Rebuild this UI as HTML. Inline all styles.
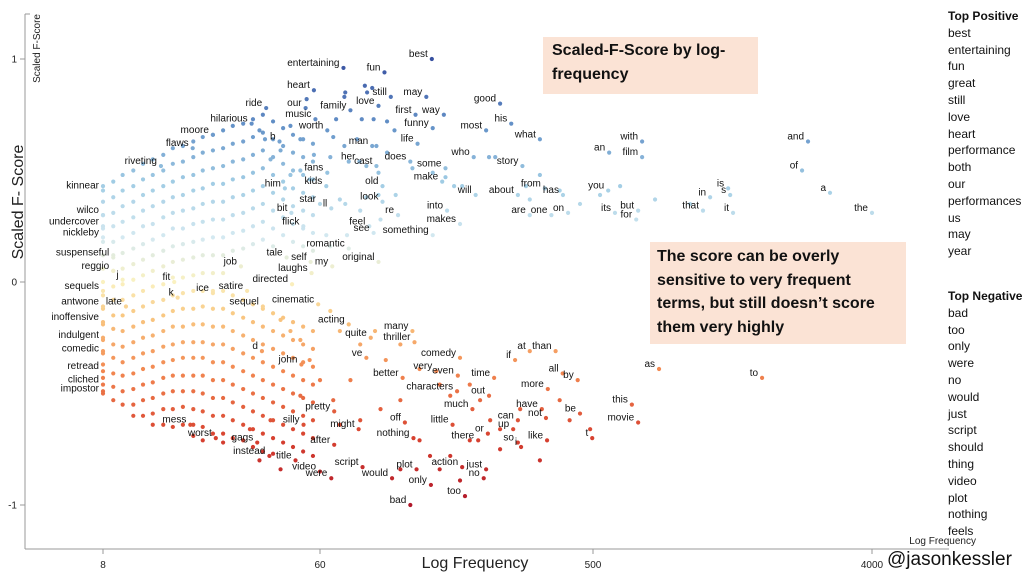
<!DOCTYPE html>
<html><head><meta charset="utf-8"><style>
body{margin:0;background:#fff;width:1024px;height:576px;overflow:hidden;font-family:"Liberation Sans",sans-serif}
svg{position:absolute;left:0;top:0}
.box{position:absolute;background:#fbe3d5;font-weight:bold;font-size:16px;color:#111;line-height:23.5px;font-family:"Liberation Sans",sans-serif}
.side{position:absolute;left:948px;font-size:12px;line-height:16.8px;color:#111}
.side b{display:block}
</style></head><body>
<svg id="chart" width="1024" height="576"></svg>
<div class="box" style="left:543px;top:37px;width:206px;height:55px;padding:2px 0 0 9px">Scaled-F-Score by log-<br>frequency</div>
<div class="box" style="left:650px;top:242px;width:249px;height:99px;padding:3px 0 0 7px">The score can be overly<br>sensitive to very frequent<br>terms, but still doesn’t score<br>them very highly</div>
<div class="side" style="top:8px"><b>Top Positive</b>best<br>entertaining<br>fun<br>great<br>still<br>love<br>heart<br>performance<br>both<br>our<br>performances<br>us<br>may<br>year</div>
<div class="side" style="top:288px"><b>Top Negative</b>bad<br>too<br>only<br>were<br>no<br>would<br>just<br>script<br>should<br>thing<br>video<br>plot<br>nothing<br>feels</div>
<div style="position:absolute;left:887px;top:549px;font-size:19px;color:#111">@jasonkessler</div>
<script>
const words=["best","entertaining","fun","heart","love","still","may","our","music","family","ride","first","way","good","hilarious","worth","funny","most","his","what","moore","b","man","life","flaws","her","cast","does","who","some","story","riveting","fans","kids","make","old","him","will","look","star","ll","bit","feel","into","re","makes","flick","see","something","kinnear","wilco","undercover","nickleby","suspenseful","reggio","romantic","original","tale","self","my","laughs","job","directed","j","fit","k","ice","satire","sequels","late","antwone","inoffensive","sequel","cinematic","acting","quite","many","thriller","d","ve","john","indulgent","comedic","retread","cliched","impostor","comedy","very","even","time","better","characters","at","than","if","all","by","as","to","more","out","pretty","much","have","this","off","might","little","can","not","be","movie","up","or","silly","nothing","mess","worst","gags","there","so","i","like","t","instead","after","title","video","script","were","would","plot","action","no","just","only","too","bad","with","an","film","and","of","a","the","from","has","about","you","in","is","s","are","one","on","its","but","for","that","it"];
const wordFreqs=[143,72,99,56.7,94.5,104,137,52.5,57.5,76,36.4,126,157,243,31.8,63.5,144,218,265,331,22.2,41.2,90,128,18.4,81.5,93,121,198,159,289,13.7,63.5,63,155,97.5,43.3,201,97.5,60,65.5,46,88,161,110,178,51.4,91,144,8,8,8,8,8.8,8.8,75,94.5,44,55,66,55.5,28.8,46.3,9.6,15.5,16,22.2,30.5,8,9.9,8,8,35.3,59,75,89,123,125,35,86,50.5,8,8,8,8,8,178,148,175,232,114,174,306,374,273,395,444,818,1763,352,223,67,196,336,668,116,81,168,279,347,452,700,269,221,51.5,124,18,22.8,33.5,205,279,286,350,497,37.5,67,47.8,60,83.5,65.5,105,127,181,214,218,142,185,121,721,564,721,2483,2375,2925,4000,344,396,279,560,1197,1369,1390,306,362,412,589,700,690,1135,1420];
const wordScores=[1.00,.96,.94,.86,.79,.83,.83,.78,.73,.77,.78,.75,.75,.80,.71,.68,.69,.68,.71,.64,.66,.63,.61,.62,.60,.54,.52,.54,.56,.51,.52,.52,.49,.43,.45,.43,.42,.39,.36,.35,.33,.31,.25,.32,.30,.26,.25,.22,.21,.41,.30,.25,.20,.11,.05,.15,.09,.11,.09,.07,.04,.07,-.01,.01,0,-.07,-.05,-.04,-.04,-.11,-.11,-.18,-.11,-.10,-.19,-.25,-.22,-.27,-.31,-.34,-.37,-.26,-.32,-.40,-.46,-.50,-.34,-.40,-.42,-.43,-.43,-.49,-.31,-.31,-.35,-.41,-.44,-.39,-.43,-.48,-.51,-.58,-.57,-.57,-.55,-.63,-.66,-.64,-.62,-.61,-.59,-.63,-.66,-.68,-.64,-.70,-.64,-.70,-.72,-.71,-.72,-.74,-.71,-.70,-.78,-.73,-.80,-.85,-.83,-.88,-.88,-.84,-.83,-.88,-.84,-.91,-.96,-1.00,.63,.58,.56,.63,.50,.40,.31,.42,.39,.39,.41,.38,.42,.39,.30,.30,.31,.31,.32,.28,.32,.31];
const colFreqs=[8,8.8,9.6,10.6,11.6,12.7,14,15.3,16.8,18.5,20.2,22.2,24.4,26.7,29.4,32.2,35.3,38.8,42.6,46.7,51.3,56.2];
const colScores=[
[.43,.36,.30,.24,.18,.12,.06,.00,-.06,-.12,-.19,-.25,-.31,-.37,-.43,-.49],
[.45,.38,.31,.25,.18,.12,.05,-.02,-.08,-.15,-.21,-.28,-.34,-.41,-.47,-.53],
[.48,.41,.34,.27,.20,.13,.06,-.01,-.08,-.15,-.22,-.29,-.36,-.42,-.49,-.55],
[.50,.43,.36,.29,.22,.15,.08,.01,-.06,-.13,-.20,-.27,-.34,-.41,-.48,-.55,-.60],
[.53,.46,.39,.32,.25,.17,.10,.03,-.04,-.11,-.18,-.25,-.32,-.39,-.46,-.53,-.60],
[.55,.48,.41,.34,.26,.19,.12,.05,-.02,-.09,-.17,-.24,-.31,-.38,-.45,-.52,-.59,-.64],
[.57,.50,.43,.36,.29,.21,.14,.07,-.01,-.08,-.15,-.22,-.29,-.36,-.43,-.50,-.57,-.64],
[.60,.53,.45,.38,.31,.24,.16,.09,.02,-.06,-.13,-.20,-.28,-.35,-.42,-.49,-.57,-.65],
[.61,.54,.47,.39,.32,.24,.17,.10,.02,-.05,-.12,-.20,-.27,-.34,-.42,-.49,-.56,-.64],
[.63,.56,.48,.41,.33,.26,.18,.11,.03,-.04,-.12,-.19,-.27,-.34,-.42,-.49,-.57,-.64,-.69],
[.65,.58,.50,.42,.35,.27,.19,.12,.04,-.04,-.11,-.19,-.27,-.34,-.42,-.50,-.58,-.65,-.71],
[.66,.59,.51,.44,.36,.28,.20,.12,.04,-.04,-.12,-.20,-.28,-.36,-.44,-.52,-.60,-.68],
[.68,.60,.52,.44,.36,.28,.20,.12,.04,-.04,-.12,-.20,-.28,-.36,-.44,-.52,-.60,-.68,-.72],
[.70,.62,.54,.46,.38,.30,.22,.14,-.06,-.14,-.22,-.30,-.38,-.46,-.54,-.62,-.70],
[.71,.63,.55,.47,.39,.31,.23,.15,-.08,-.16,-.24,-.32,-.40,-.48,-.56,-.64,-.71],
[.73,.65,.57,.49,.41,.33,.25,.17,-.10,-.18,-.26,-.34,-.42,-.50,-.58,-.66,-.74],
[.75,.67,.59,.51,.43,.35,.27,.19,-.12,-.20,-.28,-.36,-.44,-.52,-.60,-.68,-.76],
[.72,.64,.56,.48,.40,.32,.24,.16,-.14,-.22,-.30,-.38,-.46,-.54,-.62,-.70,-.77],
[.69,.61,.53,.45,.37,.29,.21,-.16,-.24,-.32,-.40,-.48,-.56,-.64,-.72],
[.66,.58,.50,.42,.34,.26,.18,-.18,-.26,-.34,-.42,-.50,-.58,-.66,-.74],
[.64,.56,.48,.40,.32,.24,.16,-.20,-.28,-.36,-.44,-.52,-.60,-.68,-.76],
[.62,.54,.46,.38,.30,.22,.14,-.22,-.30,-.38,-.46,-.54,-.62,-.70,-.78]];
const extraFreqs=[85,90,86.5,72.5,73,53,68,83,91,101,107,66.5,72.5,80,93,101,56.7,65,75,86,94.5,123,144,159,170,86,94.5,108,70,73,82,96,74,63,65,181,223,234,297,306,331,386,452,527,612,794,1031,54.5,50,45.6,37.9,41.6,34.2,36,45.6,50,65,70,82,92,100,112,130,152,165,192,208,112,96,82,70,130,141,165,192,225,243,284,386,417,489,331,243,112,152,178,66.5,76,60,54.5,50,45.6,41.6,50,37.9,31.3,34.2,41.6];
const extraScores=[.88,.87,.85,.83,.85,.82,.73,.73,.73,.72,.68,.65,.61,.64,.61,.58,.57,.56,.54,.52,.49,.51,.49,.47,.43,.38,.39,.39,.37,.35,.32,.28,.21,.21,.16,.43,.56,.56,.43,.37,.48,.41,.35,.39,.43,.37,.35,.46,.50,.48,.55,.59,.68,.64,.70,.64,-.13,-.22,-.28,-.22,-.35,-.28,-.39,-.46,-.51,-.46,-.53,-.53,-.57,-.62,-.64,-.71,-.78,-.78,-.71,-.62,-.66,-.57,-.53,-.62,-.66,-.80,-.75,-.84,-.84,-.89,-.53,-.44,-.44,-.35,-.26,-.22,-.17,-.51,-.62,-.66,-.80,-.84];

const xTickVals=[8,60,500,4000];
const xTickPx=[103,320,593,872];
const yTickVals=[1,0,-1];
const svg=document.getElementById('chart');
const NS='http://www.w3.org/2000/svg';
function xS(f){const l=Math.log10(f);const L=xTickVals.map(Math.log10);
  let i=0;if(l>L[1])i=1;if(l>L[2])i=2;
  return xTickPx[i]+(l-L[i])/(L[i+1]-L[i])*(xTickPx[i+1]-xTickPx[i]);}
function yS(s){return 282-s*223;}
const stopV=[-1,-0.7,-0.4,-0.15,0,0.2,0.45,0.7,1];
const stopC=[[176,24,42],[215,65,48],[242,135,80],[249,200,130],[250,241,192],[212,233,241],[160,204,228],[100,146,200],[55,80,160]];
function col(s){s=Math.max(-1,Math.min(1,s));let i=0;while(i<stopV.length-2&&s>stopV[i+1])i++;
  const t=(s-stopV[i])/(stopV[i+1]-stopV[i]);const a=stopC[i],b=stopC[i+1];
  return 'rgb('+a.map((v,k)=>Math.round(v+(b[k]-v)*t)).join(',')+')';}
function mk(tag,at,txt){const e=document.createElementNS(NS,tag);for(const k in at)e.setAttribute(k,at[k]);if(txt!==undefined)e.textContent=txt;svg.appendChild(e);return e;}

let ax=mk('line',{x1:25,y1:14,x2:25,y2:549,stroke:'#999','stroke-width':1});


let axx=mk('line',{x1:25,y1:549,x2:949,y2:549,stroke:'#999','stroke-width':1});


mk('line',{x1:25,y1:14,x2:30,y2:14,stroke:'#999'});
yTickVals.forEach(v=>{const y=yS(v);
  mk('line',{x1:20,y1:y,x2:25,y2:y,stroke:'#999'});
  const t=mk('text',{x:17,y:y+3.5,'text-anchor':'end','font-size':10,fill:'#222'},String(v));
  
  });
xTickVals.forEach(v=>{const x=xS(v);
  mk('line',{x1:x,y1:549,x2:x,y2:554,stroke:'#999'});
  const t=mk('text',{x:x,y:568,'text-anchor':'middle','font-size':10,fill:'#222'},String(v));
  
  });
let t1=mk('text',{x:475,y:568,'text-anchor':'middle','font-size':16,fill:'#222'},'Log Frequency');


let t2=mk('text',{x:976,y:544,'text-anchor':'end','font-size':10,fill:'#222'},'Log Frequency');


let t3=mk('text',{x:0,y:0,'text-anchor':'middle','font-size':16,fill:'#222',transform:'translate(23,202) rotate(-90)'},'Scaled F- Score');


let t4=mk('text',{x:0,y:0,'text-anchor':'end','font-size':10,fill:'#222',transform:'translate(40,14) rotate(-90)'},'Scaled F-Score');



colFreqs.forEach((f,i)=>{colScores[i].forEach(s=>{
  const c=mk('circle',{cx:xS(f),cy:yS(s),r:2.1,fill:col(s)});
  
  });});
extraFreqs.forEach((f,i)=>{const s=extraScores[i];
  const c=mk('circle',{cx:xS(f),cy:yS(s),r:2.1,fill:col(s)});
  
  });
words.forEach((w,i)=>{const x=xS(wordFreqs[i]),y=yS(wordScores[i]);
  const c=mk('circle',{cx:x,cy:y,r:2.1,fill:col(wordScores[i])});
  
  
  const t=mk('text',{x:x-4,y:y-2,'text-anchor':'end','font-size':10,fill:'#111'},w);
  
  });
</script>
</body></html>
